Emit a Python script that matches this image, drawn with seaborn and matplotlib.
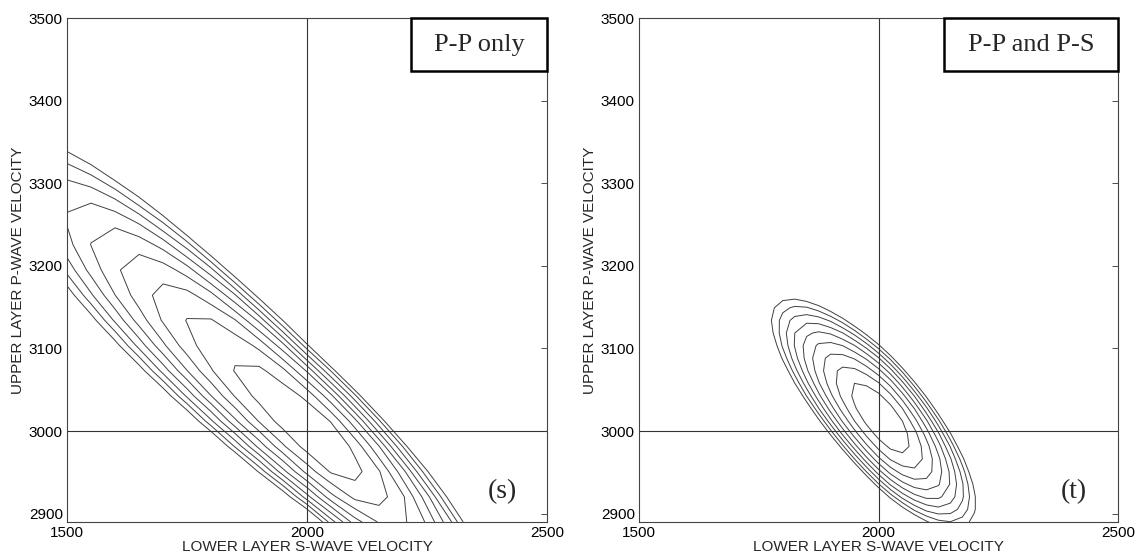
import numpy as np
import matplotlib
matplotlib.use("Agg")
import matplotlib.pyplot as plt
import seaborn as sns
from matplotlib.patches import Rectangle

# ---- axes, ticks, reference model ----
x_range = [1500, 2500]
y_range = [2890, 3500]
x_ticks = [1500, 2000, 2500]
y_ticks = [2900, 3000, 3100, 3200, 3300, 3400, 3500]
true_s_velocity = 2000
true_p_velocity = 3000

# sampling grids of the misfit surfaces (points along x, y)
pp_grid = [21, 21]
ps_grid = [41, 41]

# contour levels (misfit units)
contour_levels = [1, 2, 3, 4, 5, 6, 7, 8, 9]

# ---- misfit surface shape ----
# panel (s): P-P only
pp_minimum = [2022, 2994]
pp_valley_slope = -0.504
pp_reach_low_s = 184      # along-valley reach of level 1 towards low S velocity
pp_reach_high_s = 103     # along-valley reach of level 1 towards high S velocity
pp_power_low_s = 1.7
pp_power_high_s = 1.75
pp_width = 33             # vertical half-width of level 1
pp_widening = 0.0008

# panel (t): P-P and P-S
ps_minimum = [2010, 3013]
ps_valley_slope = -0.52
ps_reach_low_s = 69
ps_reach_high_s = 57
ps_power_low_s = 1.8
ps_power_high_s = 1.8
ps_width = 29
ps_widening = 0.0

panel_titles = ["P-P only", "P-P and P-S"]
panel_tags = ["(s)", "(t)"]
x_label = "LOWER LAYER S-WAVE VELOCITY"
y_label = "UPPER LAYER P-WAVE VELOCITY"


def misfit(X, Y, minimum, slope, reach_lo, reach_hi, pow_lo, pow_hi, width, widen):
    u = -(X - minimum[0])
    v = (Y - minimum[1]) - slope * (X - minimum[0])
    a = np.where(u >= 0, reach_lo, reach_hi)
    p = np.where(u >= 0, pow_lo, pow_hi)
    b = width * (1 + widen * np.maximum(u, 0))
    return np.abs(u / a) ** p + (v / b) ** 2


def grid(n):
    gx = np.linspace(x_range[0], x_range[1], n[0])
    gy = np.linspace(y_range[0], y_range[1], n[1])
    return np.meshgrid(gx, gy)


sns.set_style("white")
plt.rcParams["font.family"] = ["Liberation Sans", "DejaVu Sans"]

fig = plt.figure(figsize=(11.44, 5.6), dpi=100)
W, H = 1144, 560
ax_left = fig.add_axes([67 / W, 38 / H, 480 / W, 504 / H])
ax_right = fig.add_axes([639 / W, 38 / H, 479 / W, 504 / H])

PX, PY = grid(pp_grid)
SX, SY = grid(ps_grid)
surfaces = [
    (PX, PY, misfit(PX, PY, pp_minimum, pp_valley_slope, pp_reach_low_s, pp_reach_high_s,
                    pp_power_low_s, pp_power_high_s, pp_width, pp_widening)),
    (SX, SY, misfit(SX, SY, ps_minimum, ps_valley_slope, ps_reach_low_s, ps_reach_high_s,
                    ps_power_low_s, ps_power_high_s, ps_width, ps_widening)),
]
box_left = [0.717, 0.637]

line_col = "#404040"
for i, ax in enumerate([ax_left, ax_right]):
    X, Y, Z = surfaces[i]
    ax.contour(X, Y, Z, levels=contour_levels, colors=line_col, linewidths=0.7)
    ax.axvline(true_s_velocity, color="#333333", lw=0.8)
    ax.axhline(true_p_velocity, color="#333333", lw=0.8)
    ax.set_xlim(x_range)
    ax.set_ylim(y_range)
    ax.set_xticks(x_ticks)
    ax.set_yticks(y_ticks)
    ax.tick_params(direction="in", top=True, right=True, length=4, width=0.6,
                   labelsize=11, pad=3, colors="#333333", labelcolor="black")
    for sp in ax.spines.values():
        sp.set_color("#444444")
        sp.set_linewidth(0.8)
    ax.set_xlabel(x_label, fontsize=11, labelpad=0)
    ax.set_ylabel(y_label, fontsize=11, labelpad=3)
    x0 = box_left[i]
    ax.add_patch(Rectangle((x0, 0.895), 1 - x0, 0.105, transform=ax.transAxes,
                           facecolor="white", edgecolor="black", lw=1.8,
                           clip_on=False, zorder=5))
    ax.text((x0 + 1) / 2, 0.947, panel_titles[i], transform=ax.transAxes,
            ha="center", va="center", fontsize=19, family="Liberation Serif", zorder=6)
    ax.text(0.907, 0.06, panel_tags[i], transform=ax.transAxes,
            ha="center", va="center", fontsize=20, family="Liberation Serif")

fig.savefig("out.png", dpi=100)
